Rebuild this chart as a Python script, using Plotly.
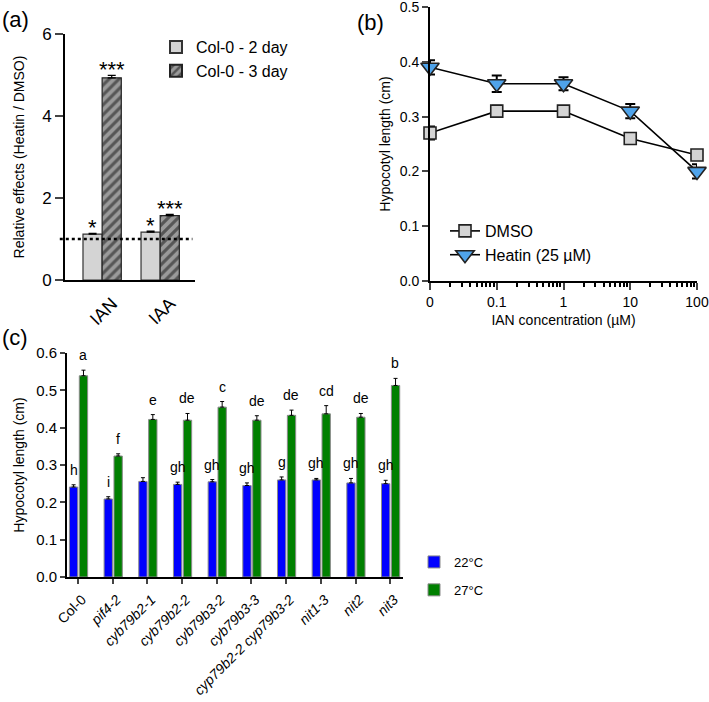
import plotly.graph_objects as go

# ---------------- Panel (a) data ----------------
a_cats = ["IAN", "IAA"]
a_2day = [1.12, 1.17]
a_2day_err = [0.02, 0.02]
a_3day = [4.93, 1.57]
a_3day_err = [0.06, 0.03]
a_2day_sig = ["*", "*"]
a_3day_sig = ["***", "***"]

# ---------------- Panel (b) data ----------------
b_conc_labels = ["0", "0.1", "1", "10", "100"]
b_conc_pos = [0.01, 0.1, 1, 10, 100]   # "0" drawn one decade left of 0.1
b_dmso = [0.27, 0.31, 0.31, 0.26, 0.23]
b_dmso_err = [0.012, 0.01, 0.005, 0.005, 0.005]
b_heatin = [0.39, 0.36, 0.36, 0.31, 0.20]
b_heatin_err = [0.013, 0.015, 0.012, 0.013, 0.013]

# ---------------- Panel (c) data ----------------
c_lines = ["Col-0", "pif4-2", "cyb79b2-1", "cyb79b2-2", "cyb79b3-2", "cyb79b3-3",
           "cyp79b2-2 cyp79b3-2", "nit1-3", "nit2", "nit3"]
c_22 = [0.241, 0.209, 0.256, 0.248, 0.255, 0.245, 0.260, 0.260, 0.252, 0.250]
c_22_err = [0.006, 0.006, 0.010, 0.006, 0.006, 0.007, 0.008, 0.004, 0.012, 0.009]
c_27 = [0.539, 0.324, 0.422, 0.420, 0.455, 0.420, 0.433, 0.437, 0.428, 0.513]
c_27_err = [0.015, 0.006, 0.013, 0.018, 0.015, 0.012, 0.014, 0.022, 0.010, 0.019]
c_22_letters = ["h", "i", "", "gh", "gh", "gh", "g", "gh", "gh", "gh"]
c_27_letters = ["a", "f", "e", "de", "c", "de", "de", "cd", "de", "b"]

FONT = "Arial, Liberation Sans, Helvetica, sans-serif"
NARROW = "Liberation Sans Narrow, Arial Narrow, Arial, Liberation Sans, sans-serif"
W, H = 709, 702

fig = go.Figure()

# ---------- (a) ----------
fig.add_trace(go.Bar(
    x=a_cats, y=a_2day, name="Col-0 - 2 day", xaxis="x", yaxis="y",
    width=0.33, offset=-0.33,
    marker=dict(color="#d4d4d4", line=dict(color="#333333", width=1.2)),
    error_y=dict(type="data", array=a_2day_err, symmetric=False,
                 arrayminus=[0] * len(a_2day_err), color="black", thickness=1.2, width=4),
    legend="legend", legendgroup="a1"))
fig.add_trace(go.Bar(
    x=a_cats, y=a_3day, name="Col-0 - 3 day", xaxis="x", yaxis="y",
    width=0.33, offset=0.0,
    marker=dict(color="#9a9a9a", line=dict(color="#222222", width=1.2),
                pattern=dict(shape="/", fgcolor="#111111", bgcolor="#9a9a9a",
                             size=7, solidity=0.45)),
    error_y=dict(type="data", array=a_3day_err, symmetric=False,
                 arrayminus=[0] * len(a_3day_err), color="black", thickness=1.2, width=4),
    legend="legend", legendgroup="a2"))

# ---------- (b) ----------
fig.add_trace(go.Scatter(
    x=b_conc_pos, y=b_dmso, name="DMSO", xaxis="x2", yaxis="y2",
    mode="lines+markers", cliponaxis=False,
    line=dict(color="black", width=1.6),
    marker=dict(symbol="square", size=12, color="#d4d4d4",
                line=dict(color="#222222", width=1.6)),
    error_y=dict(type="data", array=b_dmso_err, color="black", thickness=2, width=5),
    legend="legend2"))
fig.add_trace(go.Scatter(
    x=b_conc_pos, y=b_heatin, name="Heatin (25 µM)", xaxis="x2", yaxis="y2",
    mode="lines+markers", cliponaxis=False,
    line=dict(color="black", width=1.6),
    marker=dict(symbol="triangle-down", size=16, color="#4fa3ea",
                line=dict(color="#222222", width=1.6)),
    error_y=dict(type="data", array=b_heatin_err, color="black", thickness=2, width=5),
    legend="legend2"))

# ---------- (c) ----------
fig.add_trace(go.Bar(
    x=c_lines, y=c_22, name="22°C", xaxis="x3", yaxis="y3",
    width=0.24, offset=-0.25,
    marker=dict(color="#0000ff", line=dict(color="#8a8a8a", width=1)),
    error_y=dict(type="data", array=c_22_err, symmetric=False,
                 arrayminus=[0] * len(c_22_err), color="black", thickness=1, width=2),
    legend="legend3", legendgroup="c1"))
fig.add_trace(go.Bar(
    x=c_lines, y=c_27, name="27°C", xaxis="x3", yaxis="y3",
    width=0.24, offset=0.035,
    marker=dict(color="#008000", line=dict(color="#8a8a8a", width=1)),
    error_y=dict(type="data", array=c_27_err, symmetric=False,
                 arrayminus=[0] * len(c_27_err), color="black", thickness=1, width=2),
    legend="legend3", legendgroup="c2"))

annotations = []
# significance stars (a)
for cat, v, e, s in zip(a_cats, a_2day, a_2day_err, a_2day_sig):
    annotations.append(dict(x=cat, y=v + e, xref="x", yref="y", text=s, showarrow=False,
                            xshift=-9.5, yanchor="middle", yshift=6,
                            font=dict(size=22, family=FONT, color="black")))
for cat, v, e, s in zip(a_cats, a_3day, a_3day_err, a_3day_sig):
    annotations.append(dict(x=cat, y=v + e, xref="x", yref="y", text=s, showarrow=False,
                            xshift=9.5, yanchor="middle", yshift=6,
                            font=dict(size=22, family=FONT, color="black")))
# letters (c)
for cat, v, e, s in zip(c_lines, c_22, c_22_err, c_22_letters):
    if s:
        annotations.append(dict(x=cat, y=v + e, xref="x3", yref="y3", text=s, showarrow=False,
                                xshift=-4.5, yanchor="bottom", yshift=5,
                                font=dict(size=14, family=FONT, color="black")))
for cat, v, e, s in zip(c_lines, c_27, c_27_err, c_27_letters):
    if s:
        annotations.append(dict(x=cat, y=v + e, xref="x3", yref="y3", text=s, showarrow=False,
                                xshift=5.3, yanchor="bottom", yshift=5,
                                font=dict(size=14, family=FONT, color="black")))
# panel letters
for txt, px, py in [("(a)", 0, 20), ("(b)", 355, 22), ("(c)", 0, 338)]:
    annotations.append(dict(x=px / W, y=1 - py / H, xref="paper", yref="paper", text=txt,
                            showarrow=False, xanchor="left", yanchor="middle",
                            font=dict(size=22, family=FONT, color="black")))

def italic(name):
    return name if name == "Col-0" else "<i>" + name + "</i>"

fig.update_layout(
    width=W, height=H, margin=dict(l=0, r=0, t=0, b=0, autoexpand=False),
    paper_bgcolor="white", plot_bgcolor="white",
    font=dict(family=FONT, color="black"),
    barmode="group",
    annotations=annotations,
    shapes=[dict(type="line", xref="x domain", yref="y", x0=-0.04, x1=0.98, y0=1, y1=1,
                 line=dict(color="black", width=2.5, dash="dot"))],
    # (a) axes
    xaxis=dict(domain=[65 / W, 195 / W], anchor="y", range=[-0.64, 1.6], automargin=False,
               showline=True, linecolor="black", linewidth=2, ticks="",
               tickangle=-45, tickfont=dict(size=18), ticklabelstandoff=4, ticklabelshift=10,
               showgrid=False, zeroline=False),
    yaxis=dict(domain=[1 - 280 / H, 1 - 34 / H], anchor="x", range=[0, 6], automargin=False,
               tickvals=[0, 2, 4, 6], showline=True, linecolor="black", linewidth=2,
               ticks="outside", ticklen=8, tickwidth=2, tickfont=dict(size=17),
               ticklabeloverflow="allow", showgrid=False, zeroline=False,
               title=dict(text="Relative effects (Heatin / DMSO)", font=dict(size=14), standoff=14)),
    # (b) axes
    xaxis2=dict(domain=[430 / W, 697 / W], anchor="y2", type="log", range=[-2, 2],
                automargin=False, ticklabeloverflow="allow",
                tickvals=b_conc_pos, ticktext=b_conc_labels,
                showline=True, linecolor="black", linewidth=2,
                ticks="outside", ticklen=7, tickwidth=2, tickfont=dict(size=14),
                minor=dict(ticks="outside", ticklen=4, tickwidth=1.5, tickcolor="black",
                           tickmode="array",
                           tickvals=[m * 10 ** d for d in (-2, -1, 0, 1) for m in range(2, 10)]),
                showgrid=False, zeroline=False,
                title=dict(text="IAN concentration (µM)", font=dict(size=14), standoff=6)),
    yaxis2=dict(domain=[1 - 281 / H, 1 - 7 / H], anchor="x2", range=[0, 0.5], automargin=False,
                tickvals=[0, 0.1, 0.2, 0.3, 0.4, 0.5], tickformat=".1f",
                ticklabeloverflow="allow",
                showline=True, linecolor="black", linewidth=2,
                ticks="outside", ticklen=6, tickwidth=2, tickfont=dict(size=14),
                showgrid=False, zeroline=False,
                title=dict(text="Hypocotyl length (cm)", font=dict(size=14), standoff=6)),
    # (c) axes
    xaxis3=dict(domain=[67 / W, 403 / W], anchor="y3", range=[-0.32, 9.37], automargin=False,
                tickvals=c_lines, ticktext=[italic(n) for n in c_lines],
                ticklabeloverflow="allow",
                showline=True, linecolor="black", linewidth=2,
                ticks="outside", ticklen=5, tickwidth=1.5, tickangle=-45,
                ticklabelstandoff=2, ticklabelshift=4,
                tickfont=dict(size=14), showgrid=False, zeroline=False),
    yaxis3=dict(domain=[1 - 577 / H, 1 - 353 / H], anchor="x3", range=[0, 0.6], automargin=False,
                tickvals=[0, 0.1, 0.2, 0.3, 0.4, 0.5, 0.6], tickformat=".1f",
                ticklabeloverflow="allow",
                showline=True, linecolor="black", linewidth=2,
                ticks="outside", ticklen=5, tickwidth=1.5, tickfont=dict(size=15),
                showgrid=False, zeroline=False,
                title=dict(text="Hypocotyl length (cm)", font=dict(size=14), standoff=8)),
    legend=dict(x=156 / W, y=1 - 30 / H, xanchor="left", yanchor="top",
                font=dict(size=16), bgcolor="rgba(0,0,0,0)", tracegroupgap=0,
                itemsizing="constant"),
    legend2=dict(x=445 / W, y=1 - 214 / H, xanchor="left", yanchor="top",
                 font=dict(size=16), bgcolor="rgba(0,0,0,0)"),
    legend3=dict(x=414 / W, y=1 - 547 / H, xanchor="left", yanchor="top",
                 font=dict(size=13, family=NARROW), bgcolor="rgba(0,0,0,0)",
                 tracegroupgap=8),
)

fig.write_html("out.html", post_script="document.body.style.margin='0';",
               config={"displayModeBar": False})
